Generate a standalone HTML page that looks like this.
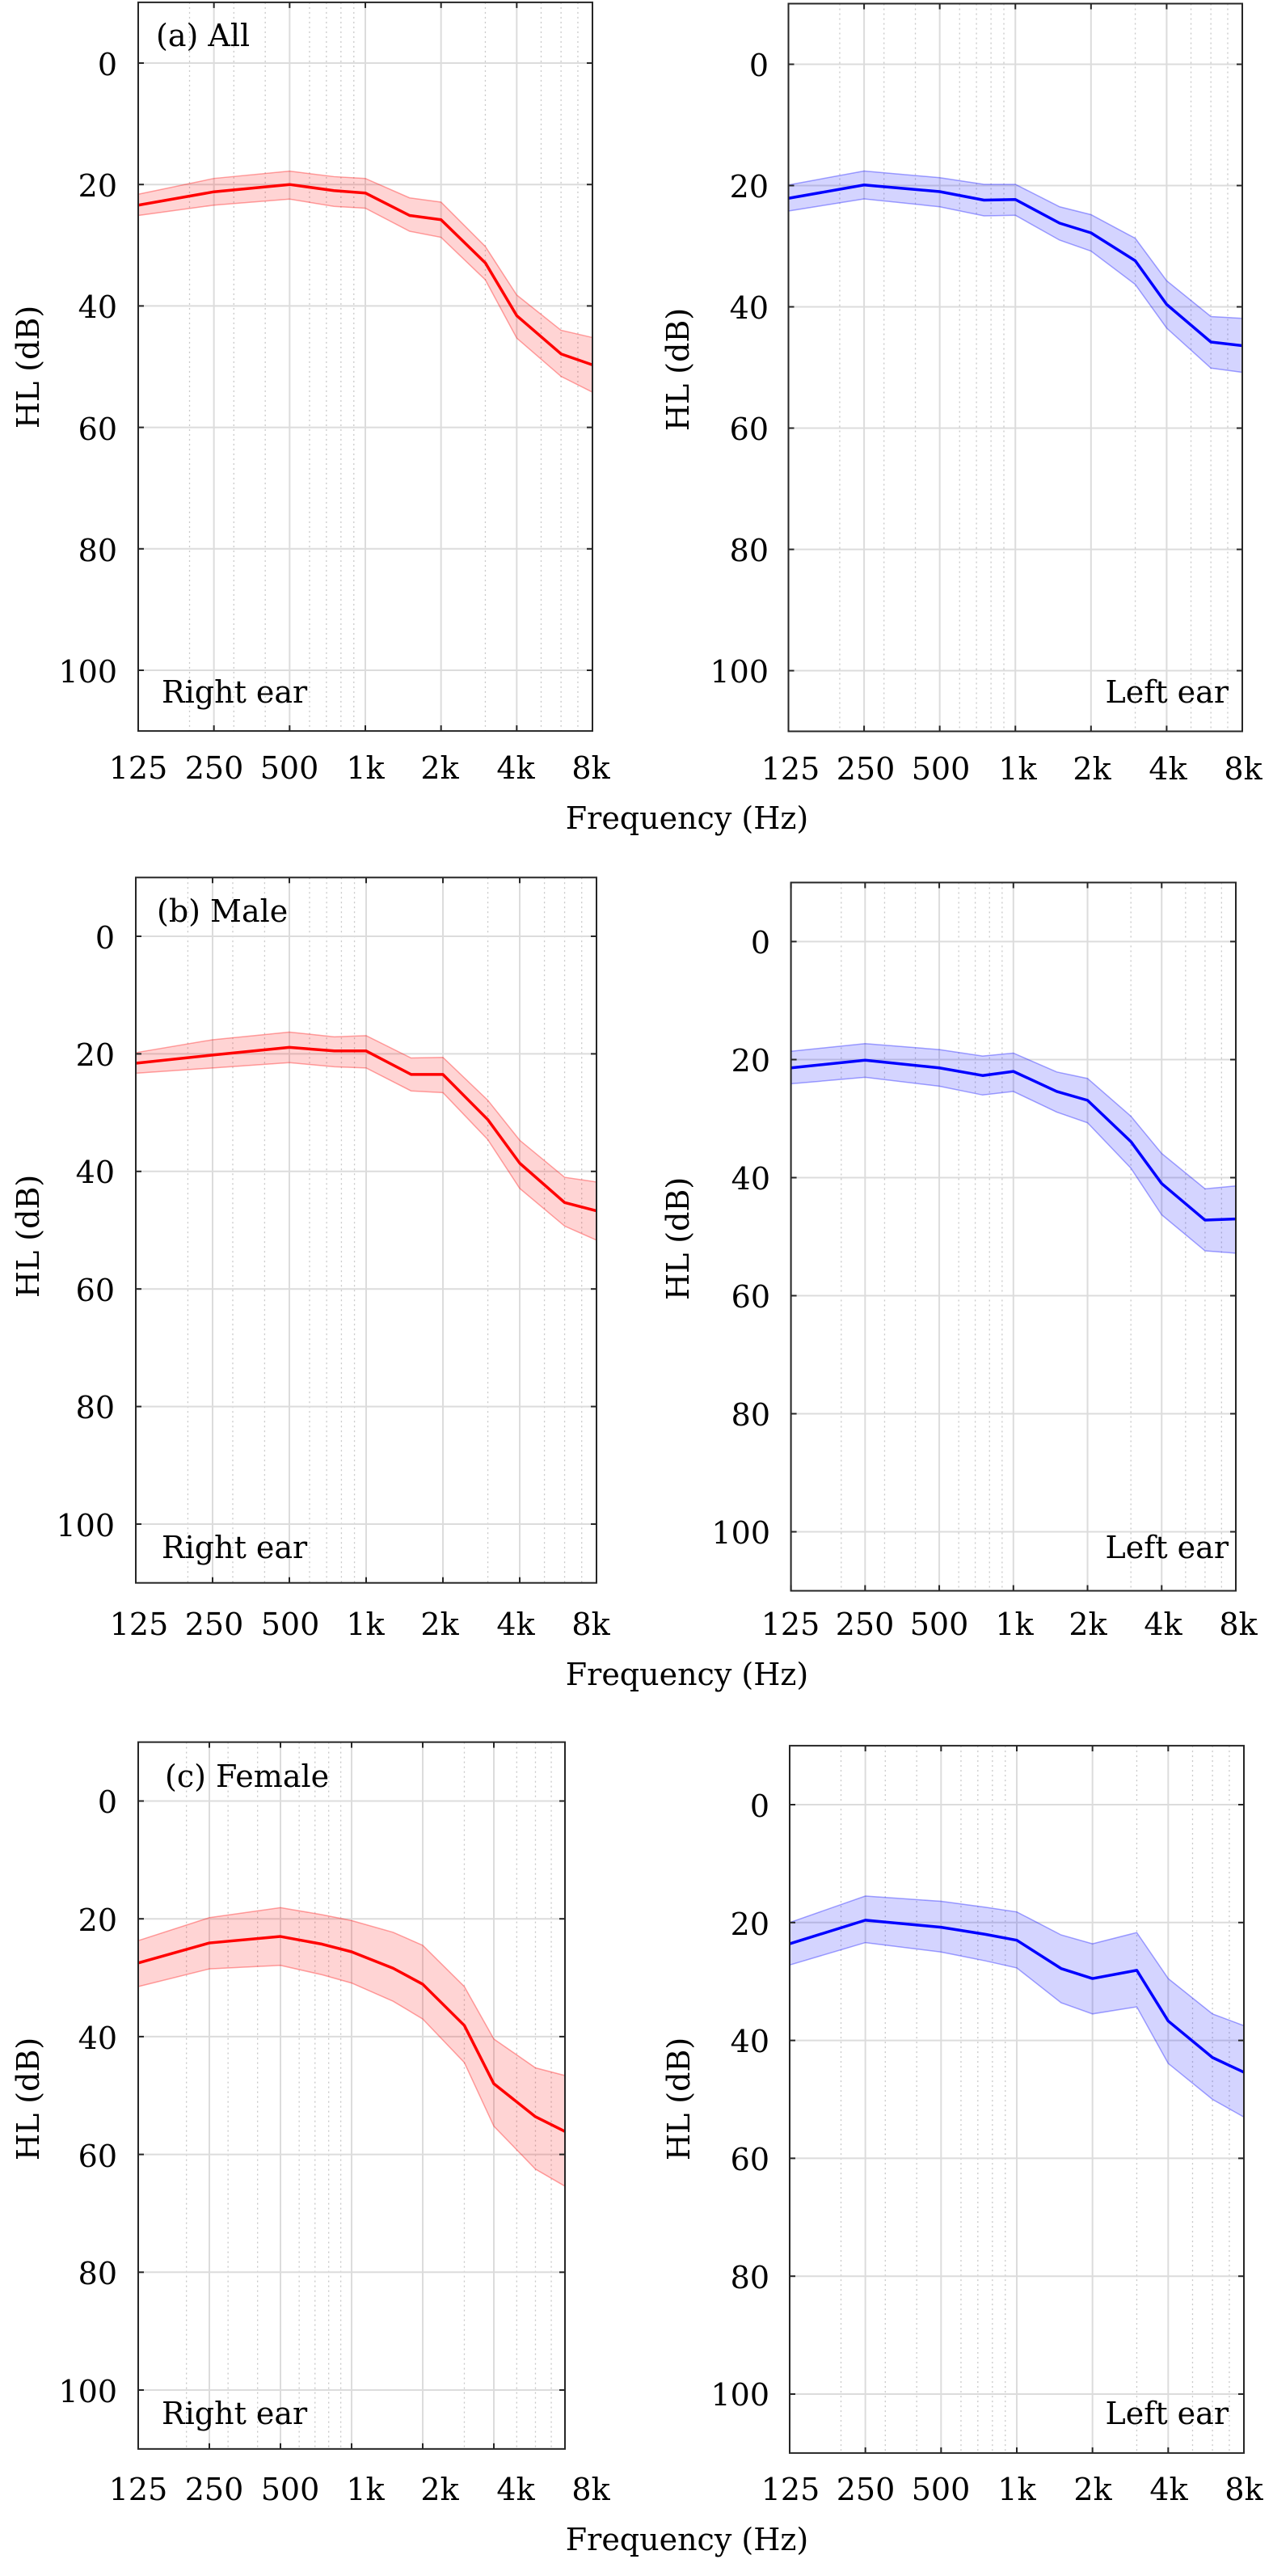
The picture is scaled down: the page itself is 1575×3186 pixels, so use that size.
<!DOCTYPE html>
<html><head><meta charset="utf-8"><style>
html,body{margin:0;padding:0;background:#fff;}
svg text{font-family:"DejaVu Serif","Liberation Serif",serif;fill:#000;}
</style></head><body>
<svg id="s" width="1575" height="3181" viewBox="0 0 1575 3181" xmlns="http://www.w3.org/2000/svg">
<g id="plots"></g>
<g font-size="38">
<g text-anchor="end" dominant-baseline="central">
<text x="145" y="80">0</text><text x="145" y="230">20</text><text x="145" y="380">40</text><text x="145" y="531">60</text><text x="145" y="681">80</text><text x="145" y="831">100</text>
<text x="951" y="81">0</text><text x="951" y="231">20</text><text x="951" y="381">40</text><text x="951" y="531">60</text><text x="951" y="681">80</text><text x="951" y="831">100</text>
<text x="142" y="1160">0</text><text x="142" y="1305">20</text><text x="142" y="1450">40</text><text x="142" y="1596">60</text><text x="142" y="1741">80</text><text x="142" y="1887">100</text>
<text x="953" y="1166">0</text><text x="953" y="1312">20</text><text x="953" y="1458">40</text><text x="953" y="1604">60</text><text x="953" y="1750">80</text><text x="953" y="1896">100</text>
<text x="145" y="2229">0</text><text x="145" y="2375">20</text><text x="145" y="2521">40</text><text x="145" y="2667">60</text><text x="145" y="2812">80</text><text x="145" y="2958">100</text>
<text x="952" y="2234">0</text><text x="952" y="2380">20</text><text x="952" y="2525">40</text><text x="952" y="2671">60</text><text x="952" y="2817">80</text><text x="952" y="2962">100</text>
</g>
<g text-anchor="middle" dominant-baseline="central">
<text x="171" y="950">125</text><text x="265" y="950">250</text><text x="358" y="950">500</text><text x="452" y="950">1k</text><text x="544" y="950">2k</text><text x="638" y="950">4k</text><text x="731" y="950">8k</text>
<text x="978" y="951">125</text><text x="1071" y="951">250</text><text x="1164" y="951">500</text><text x="1259" y="951">1k</text><text x="1351" y="951">2k</text><text x="1445" y="951">4k</text><text x="1538" y="951">8k</text>
<text x="172" y="2009">125</text><text x="265" y="2009">250</text><text x="359" y="2009">500</text><text x="452" y="2009">1k</text><text x="544" y="2009">2k</text><text x="638" y="2009">4k</text><text x="731" y="2009">8k</text>
<text x="978" y="2009">125</text><text x="1070" y="2009">250</text><text x="1162" y="2009">500</text><text x="1255" y="2009">1k</text><text x="1346" y="2009">2k</text><text x="1439" y="2009">4k</text><text x="1532" y="2009">8k</text>
<text x="171" y="3079">125</text><text x="265" y="3079">250</text><text x="359" y="3079">500</text><text x="452" y="3079">1k</text><text x="544" y="3079">2k</text><text x="638" y="3079">4k</text><text x="731" y="3079">8k</text>
<text x="978" y="3079">125</text><text x="1071" y="3079">250</text><text x="1164" y="3079">500</text><text x="1258" y="3079">1k</text><text x="1352" y="3079">2k</text><text x="1446" y="3079">4k</text><text x="1539" y="3079">8k</text>
<text x="850" y="1012">Frequency (Hz)</text>
<text x="850" y="2071">Frequency (Hz)</text>
<text x="850" y="3141">Frequency (Hz)</text>
<text transform="translate(35,454) rotate(-90)">HL (dB)</text>
<text transform="translate(839,457) rotate(-90)">HL (dB)</text>
<text transform="translate(35,1529) rotate(-90)">HL (dB)</text>
<text transform="translate(839,1532) rotate(-90)">HL (dB)</text>
<text transform="translate(35,2596) rotate(-90)">HL (dB)</text>
<text transform="translate(840,2596) rotate(-90)">HL (dB)</text>
</g>
<text x="193" y="57">(a) All</text>
<text x="194" y="1140">(b) Male</text>
<text x="204" y="2210">(c) Female</text>
<text x="200" y="869">Right ear</text>
<text x="200" y="1927">Right ear</text>
<text x="200" y="2998">Right ear</text>
<g text-anchor="end">
<text x="1520" y="869">Left ear</text>
<text x="1520" y="1927">Left ear</text>
<text x="1520" y="2998">Left ear</text>
</g>
</g>
</svg>
<script>
var NS="http://www.w3.org/2000/svg";
var g=document.getElementById("plots");
function el(t,a){var e=document.createElementNS(NS,t);for(var k in a)e.setAttribute(k,a[k]);g.appendChild(e);return e;}
var F=[125,250,500,750,1000,1500,2000,3000,4000,6000,8000];
var P=[
{x0:171,x1:733,y0:78,d:7.51,c:"#ff0000",f:"rgba(255,0,0,0.17)",s:"rgba(255,0,0,0.35)",
 m:[23.4,21.2,20.0,21.0,21.4,25.1,25.8,32.9,41.6,47.9,49.7],
 u:[21.6,19.0,17.8,18.7,19.0,22.2,22.9,30.2,38.2,44.0,45.2],
 l:[25.1,23.4,22.4,23.6,23.9,27.7,28.7,35.7,45.3,51.6,54.2]},
{x0:975.5,x1:1537,y0:79.5,d:7.5,c:"#0000ff",f:"rgba(0,0,255,0.17)",s:"rgba(0,0,255,0.35)",
 m:[22.1,19.9,21.0,22.4,22.3,26.2,27.8,32.4,39.6,45.8,46.4],
 u:[19.9,17.6,18.7,19.8,19.8,23.5,24.8,28.7,35.7,41.6,41.9],
 l:[24.2,22.2,23.5,25.0,24.9,29.0,30.8,36.3,43.5,50.1,50.8]},
{x0:168,x1:738,y0:1158,d:7.27,c:"#ff0000",f:"rgba(255,0,0,0.17)",s:"rgba(255,0,0,0.35)",
 m:[21.6,20.2,18.9,19.5,19.5,23.5,23.5,31.2,38.6,45.3,46.7],
 u:[19.8,17.6,16.3,17.1,16.9,20.7,20.6,27.9,34.7,41.0,41.8],
 l:[23.3,22.4,21.5,22.2,22.4,26.3,26.6,34.6,42.9,49.3,51.7]},
{x0:978.6,x1:1529,y0:1164.5,d:7.3,c:"#0000ff",f:"rgba(0,0,255,0.17)",s:"rgba(0,0,255,0.35)",
 m:[21.4,20.1,21.4,22.7,22.0,25.4,26.9,33.9,41.0,47.2,47.0],
 u:[18.6,17.3,18.3,19.4,18.9,22.1,23.2,29.6,35.9,41.9,41.4],
 l:[24.1,23.0,24.5,26.0,25.4,28.9,30.7,38.4,46.3,52.4,52.8]},
{x0:171,x1:699,y0:2227.5,d:7.285,c:"#ff0000",f:"rgba(255,0,0,0.17)",s:"rgba(255,0,0,0.35)",
 m:[27.5,24.1,23.0,24.3,25.6,28.4,31.1,38.1,48.0,53.6,56.1],
 u:[23.7,19.8,18.1,19.3,20.3,22.3,24.5,31.5,40.4,45.3,46.6],
 l:[31.5,28.5,27.9,29.5,30.9,34.0,37.0,44.4,55.2,62.5,65.4]},
{x0:977,x1:1539,y0:2232,d:7.29,c:"#0000ff",f:"rgba(0,0,255,0.17)",s:"rgba(0,0,255,0.35)",
 m:[23.6,19.6,20.8,22.0,23.0,27.8,29.5,28.1,36.7,42.9,45.4],
 u:[20.0,15.5,16.4,17.4,18.2,22.1,23.6,21.7,29.5,35.5,37.5],
 l:[27.2,23.4,25.0,26.5,27.7,33.6,35.5,34.3,43.9,50.0,53.0]}
];
var minor=[200,300,400,600,700,800,900,3000,5000,6000,7000];
var major=[125,250,500,1000,2000,4000,8000];
P.forEach(function(p){
 var oc=(p.x1-p.x0)/6;
 function X(f){return p.x0+oc*Math.log2(f/125);}
 function Y(v){return p.y0+p.d*v;}
 var top=Y(-10),bot=Y(110);
 minor.forEach(function(f){var x=X(f);el("line",{x1:x,x2:x,y1:top,y2:bot,stroke:"#c8c8c8","stroke-width":1.3,"stroke-dasharray":"2,4"});});
 major.forEach(function(f){var x=X(f);el("line",{x1:x,x2:x,y1:top,y2:bot,stroke:"#dcdcdc","stroke-width":2});});
 for(var v=0;v<=100;v+=20){var y=Y(v);el("line",{x1:p.x0,x2:p.x1,y1:y,y2:y,stroke:"#dcdcdc","stroke-width":2});}
 var up=F.map(function(f,i){return X(f)+","+Y(p.u[i]);});
 var lo=F.map(function(f,i){return X(f)+","+Y(p.l[i]);}).reverse();
 el("polygon",{points:up.concat(lo).join(" "),fill:p.f,stroke:"none"});
 el("polyline",{points:up.join(" "),fill:"none",stroke:p.s,"stroke-width":1.5});
 el("polyline",{points:lo.join(" "),fill:"none",stroke:p.s,"stroke-width":1.5});
 el("polyline",{points:F.map(function(f,i){return X(f)+","+Y(p.m[i]);}).join(" "),fill:"none",stroke:p.c,"stroke-width":3.5,"stroke-linejoin":"round"});
 for(var v=0;v<=100;v+=20){var y=Y(v);
  el("line",{x1:p.x0,x2:p.x0+7,y1:y,y2:y,stroke:"#262626","stroke-width":2});
  el("line",{x1:p.x1-7,x2:p.x1,y1:y,y2:y,stroke:"#262626","stroke-width":2});}
 major.forEach(function(f){var x=X(f);
  el("line",{x1:x,x2:x,y1:top,y2:top+7,stroke:"#262626","stroke-width":2});
  el("line",{x1:x,x2:x,y1:bot-7,y2:bot,stroke:"#262626","stroke-width":2});});
 el("rect",{x:p.x0,y:top,width:p.x1-p.x0,height:bot-top,fill:"none",stroke:"#262626","stroke-width":2});
});
</script>
</body></html>
